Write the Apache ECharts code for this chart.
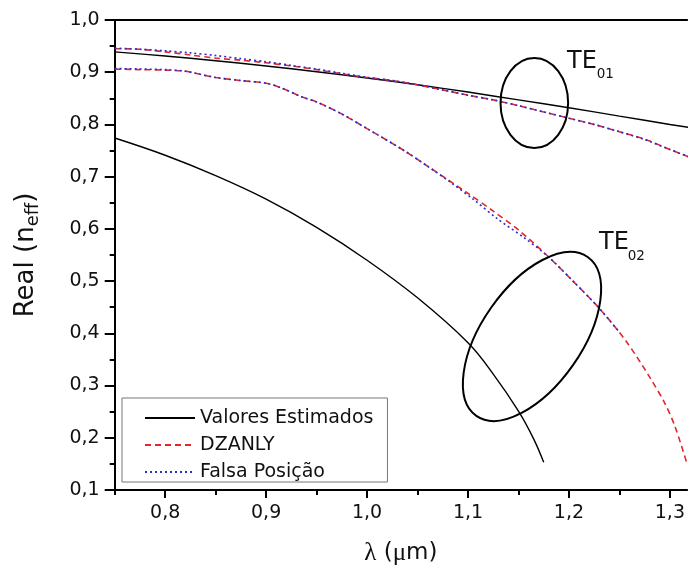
<!DOCTYPE html>
<html>
<head>
<meta charset="utf-8">
<script src="https://cdn.jsdelivr.net/npm/echarts@6/dist/echarts.min.js"></script>
<style>
html,body{margin:0;padding:0;background:#fff;}
#chart{width:688px;height:571px;}
</style>
</head>
<body>
<div id="chart"></div>
<script>
// ---- Data ----
const legendNames = ['Valores Estimados', 'DZANLY', 'Falsa Posição'];
const xMajorTicks = [0.8, 0.9, 1.0, 1.1, 1.2, 1.3];
const xMinorTicks = [0.75, 0.85, 0.95, 1.05, 1.15, 1.25];

// Valores Estimados – TE01
const estTE01_x = [0.75, 0.8, 0.85, 0.9, 0.95, 1.0, 1.05, 1.1, 1.15, 1.2, 1.25, 1.3, 1.32];
const estTE01_y = [0.939, 0.931, 0.922, 0.912, 0.901, 0.889, 0.876, 0.862, 0.847, 0.832, 0.816, 0.800, 0.794];
// Valores Estimados – TE02
const estTE02_x = [0.75, 0.8, 0.85, 0.9, 0.95, 1.0, 1.05, 1.1, 1.125, 1.15, 1.165, 1.175];
const estTE02_y = [0.774, 0.741, 0.702, 0.657, 0.603, 0.540, 0.468, 0.382, 0.322, 0.251, 0.198, 0.153];
// DZANLY – TE01
const dzTE01_x = [0.75, 0.775, 0.8, 0.825, 0.85, 0.875, 0.9, 0.925, 0.95, 0.975, 1.0, 1.025, 1.05, 1.075, 1.1, 1.125, 1.15, 1.175, 1.2, 1.225, 1.25, 1.275, 1.3, 1.32];
const dzTE01_y = [0.945, 0.944, 0.939, 0.933, 0.927, 0.923, 0.918, 0.912, 0.905, 0.897, 0.890, 0.884, 0.876, 0.866, 0.856, 0.847, 0.836, 0.824, 0.812, 0.800, 0.786, 0.772, 0.752, 0.737];
// DZANLY – TE02
const dzTE02_x = [0.75, 0.775, 0.8, 0.82, 0.83, 0.85, 0.875, 0.9, 0.915, 0.935, 0.95, 0.975, 1.0, 1.035, 1.06, 1.1, 1.125, 1.15, 1.18, 1.205, 1.23, 1.257, 1.28, 1.295, 1.305, 1.317];
const dzTE02_y = [0.906, 0.905, 0.904, 0.902, 0.898, 0.890, 0.884, 0.879, 0.870, 0.853, 0.843, 0.820, 0.792, 0.752, 0.720, 0.668, 0.634, 0.598, 0.546, 0.498, 0.448, 0.384, 0.316, 0.266, 0.222, 0.150];
// Falsa Posição – TE01
const fpTE01_x = [0.75, 0.775, 0.8, 0.825, 0.85, 0.875, 0.9, 0.925, 0.95, 0.975, 1.0, 1.025, 1.05, 1.075, 1.1, 1.125, 1.15, 1.175, 1.2, 1.225, 1.25, 1.275, 1.3, 1.32];
const fpTE01_y = [0.946, 0.944, 0.941, 0.937, 0.932, 0.926, 0.920, 0.913, 0.906, 0.898, 0.890, 0.884, 0.876, 0.866, 0.856, 0.847, 0.836, 0.824, 0.812, 0.800, 0.786, 0.771, 0.752, 0.737];
// Falsa Posição – TE02
const fpTE02_x = [0.75, 0.8, 0.82, 0.83, 0.85, 0.875, 0.9, 0.915, 0.935, 0.95, 0.975, 1.0, 1.035, 1.06, 1.085, 1.105, 1.13, 1.155, 1.18, 1.205, 1.23, 1.25];
const fpTE02_y = [0.907, 0.905, 0.902, 0.898, 0.890, 0.884, 0.879, 0.870, 0.853, 0.843, 0.820, 0.792, 0.752, 0.720, 0.686, 0.657, 0.618, 0.584, 0.546, 0.498, 0.448, 0.402];

// ---- Annotations (data coordinates) ----
const te01Ellipse = { center: [1.1657, 0.841] };
const te02Ellipse = { center: [1.1634, 0.394] };
const te01Label = { main: [1.1981, 0.920], sub: [1.2275, 0.895] };
const te02Label = { main: [1.2298, 0.574], sub: [1.2582, 0.5466] };

const pairs = (xs, ys) => xs.map((x, i) => [x, ys[i]]);
const fmt = v => v.toFixed(1).replace('.', ',');

const FONT = 'DejaVu Sans';
const BLACK = '#000';
const RED = '#e0282e';
const BLUE = '#2b2bd0';

const chart = echarts.init(document.getElementById('chart'), null, { renderer: 'canvas' });

const baseLine = (name, data, color, type, width, smooth) => ({
  type: 'line', name, data, showSymbol: false, symbol: 'none', smooth,
  xAxisIndex: 0, yAxisIndex: 0, clip: true,
  lineStyle: { color, type, width }, itemStyle: { color }
});

const option = {
  animation: false,
  textStyle: { fontFamily: FONT },
  grid: { left: 114.7, right: 0, top: 20, bottom: 78.3, containLabel: false },
  legend: {
    data: legendNames,
    orient: 'vertical',
    left: 122, top: 398,
    itemWidth: 50, itemHeight: 14, itemGap: 7,
    padding: [10, 14, 0, 22],
    borderColor: '#777', borderWidth: 1,
    itemStyle: { color: 'rgba(0,0,0,0)', borderWidth: 0, opacity: 0 },
    textStyle: { fontSize: 19, fontFamily: FONT, color: '#111', lineHeight: 20 }
  },
  xAxis: [
    {
      type: 'value', min: 0.75, max: 1.317, position: 'bottom',
      axisLine: { lineStyle: { color: BLACK, width: 2 } },
      axisTick: { customValues: xMajorTicks, length: 8, lineStyle: { color: BLACK, width: 2 } },
      axisLabel: { customValues: xMajorTicks, formatter: fmt, fontSize: 19, color: '#111', margin: 14, fontFamily: FONT },
      splitLine: { show: false },
      name: '{g|λ}{t| (}{g|μ}{t|m)}',
      nameLocation: 'middle', nameGap: 51,
      nameTextStyle: {
        rich: {
          g: { fontFamily: 'Liberation Serif', fontSize: 25, color: '#111' },
          t: { fontFamily: FONT, fontSize: 23, color: '#111' }
        }
      }
    },
    {
      type: 'value', min: 0.75, max: 1.317, position: 'bottom',
      axisLine: { show: false },
      axisTick: { customValues: xMinorTicks, length: 5, lineStyle: { color: BLACK, width: 2 } },
      axisLabel: { show: false },
      splitLine: { show: false }
    },
    {
      type: 'value', min: 0.75, max: 1.317, position: 'top',
      axisLine: { lineStyle: { color: BLACK, width: 2 } },
      axisTick: { show: false }, axisLabel: { show: false }, splitLine: { show: false }
    }
  ],
  yAxis: {
    type: 'value', min: 0.1, max: 1.0, interval: 0.1,
    axisLine: { show: true, lineStyle: { color: BLACK, width: 2 } },
    axisTick: { show: true, length: 10, lineStyle: { color: BLACK, width: 2 } },
    minorTick: { show: true, splitNumber: 2, length: 5, lineStyle: { color: BLACK, width: 2 } },
    axisLabel: { formatter: fmt, fontSize: 19, color: '#111', margin: 15, fontFamily: FONT },
    splitLine: { show: false }, minorSplitLine: { show: false },
    name: '{a|Real (n}{s|eff}{a|)}',
    nameLocation: 'middle', nameGap: 72, nameRotate: 90,
    nameTextStyle: {
      rich: {
        a: { fontFamily: FONT, fontSize: 26, lineHeight: 32, color: '#111' },
        s: { fontFamily: FONT, fontSize: 18, lineHeight: 14, verticalAlign: 'bottom', color: '#111' }
      }
    }
  },
  series: [
    baseLine(legendNames[0], pairs(estTE01_x, estTE01_y), BLACK, 'solid', 1.4, 0.4),
    baseLine(legendNames[0], pairs(estTE02_x, estTE02_y), BLACK, 'solid', 1.4, 0.4),
    baseLine(legendNames[1], pairs(dzTE01_x, dzTE01_y), RED, [6, 4], 1.6, 0.3),
    baseLine(legendNames[1], pairs(dzTE02_x, dzTE02_y), RED, [6, 4], 1.6, 0.3),
    baseLine(legendNames[2], pairs(fpTE01_x, fpTE01_y), BLUE, [2, 3], 1.6, 0.3),
    baseLine(legendNames[2], pairs(fpTE02_x, fpTE02_y), BLUE, [2, 3], 1.6, 0.3)
  ]
};
chart.setOption(option);

const px = p => chart.convertToPixel({ gridIndex: 0 }, p);
const c1 = px(te01Ellipse.center);
const c2 = px(te02Ellipse.center);
const l1m = px(te01Label.main), l1s = px(te01Label.sub);
const l2m = px(te02Label.main), l2s = px(te02Label.sub);

chart.setOption({
  graphic: [
    { type: 'ellipse', x: c1[0], y: c1[1], shape: { cx: 0, cy: 0, rx: 33.8, ry: 45 },
      style: { fill: 'none', stroke: BLACK, lineWidth: 2 }, z: 100 },
    { type: 'ellipse', x: c2[0], y: c2[1], rotation: 55 * Math.PI / 180, shape: { cx: 0, cy: 0, rx: 97, ry: 50 },
      style: { fill: 'none', stroke: BLACK, lineWidth: 2 }, z: 100 },
    { type: 'text', x: l1m[0], y: l1m[1], style: { text: 'TE', font: '24px "DejaVu Sans"', fill: '#111', verticalAlign: 'middle' }, z: 100 },
    { type: 'text', x: l1s[0], y: l1s[1], style: { text: '01', font: '13.5px "DejaVu Sans"', fill: '#111', verticalAlign: 'middle' }, z: 100 },
    { type: 'text', x: l2m[0], y: l2m[1], style: { text: 'TE', font: '24px "DejaVu Sans"', fill: '#111', verticalAlign: 'middle' }, z: 100 },
    { type: 'text', x: l2s[0], y: l2s[1], style: { text: '02', font: '13.5px "DejaVu Sans"', fill: '#111', verticalAlign: 'middle' }, z: 100 }
  ]
});
</script>
</body>
</html>
